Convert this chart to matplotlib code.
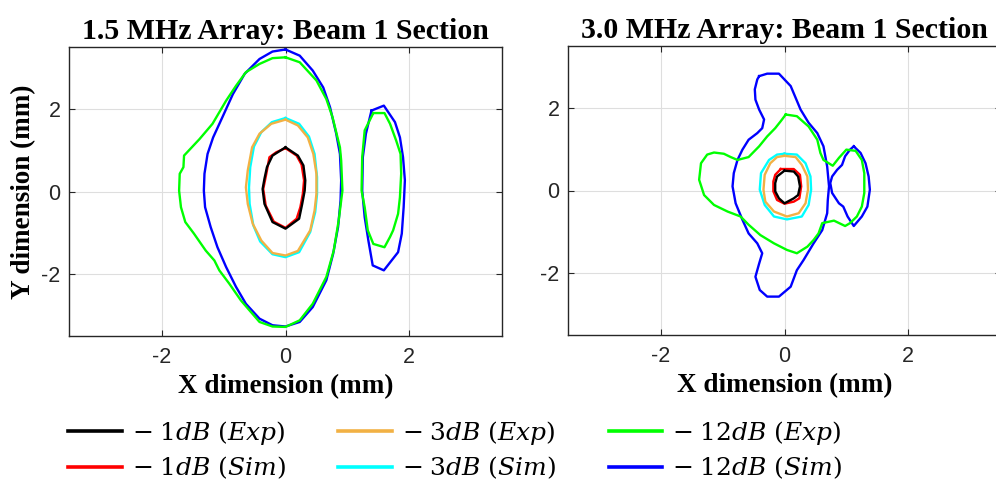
import matplotlib
matplotlib.use("Agg")
import matplotlib.pyplot as plt
import numpy as np

plt.rcParams["mathtext.fontset"] = "dejavuserif"

# ---------------- 1.5 MHz array contours (mm) ----------------
l_exp1_x = [0.0, 0.20, 0.29, 0.32, 0.31, 0.27, 0.22, 0.0, -0.21, -0.34, -0.37, -0.34, -0.30, -0.21]
l_exp1_y = [1.07, 0.87, 0.63, 0.27, 0.02, -0.30, -0.66, -0.90, -0.74, -0.30, 0.06, 0.31, 0.59, 0.87]
l_sim1_x = [0.0, 0.18, 0.26, 0.30, 0.28, 0.24, 0.18, 0.0, -0.19, -0.32, -0.36, -0.31, -0.26, -0.15]
l_sim1_y = [1.05, 0.87, 0.65, 0.27, -0.06, -0.38, -0.66, -0.88, -0.73, -0.34, 0.06, 0.43, 0.83, 0.95]

l_exp3_x = [0.0, 0.20, 0.36, 0.45, 0.50, 0.50, 0.47, 0.40, 0.20, 0.0, -0.21, -0.39, -0.53, -0.61,
            -0.64, -0.61, -0.54, -0.42, -0.23]
l_exp3_y = [1.74, 1.60, 1.31, 0.91, 0.43, -0.06, -0.46, -0.94, -1.44, -1.55, -1.49, -1.19, -0.78,
            -0.30, 0.10, 0.51, 1.07, 1.40, 1.64]
l_sim3_x = [0.0, 0.22, 0.38, 0.47, 0.51, 0.51, 0.48, 0.40, 0.22, 0.0, -0.21, -0.41, -0.52, -0.58,
            -0.59, -0.57, -0.51, -0.39, -0.22]
l_sim3_y = [1.78, 1.64, 1.33, 0.91, 0.35, -0.06, -0.50, -0.98, -1.47, -1.59, -1.52, -1.21, -0.82,
            -0.30, 0.10, 0.59, 1.09, 1.44, 1.68]

l_sim12_x = [0.0, -0.21, -0.42, -0.66, -0.85, -1.02, -1.17, -1.26, -1.31, -1.32, -1.30, -1.21,
             -1.10, -0.96, -0.80, -0.64, -0.42, -0.21, 0.0, 0.23, 0.44, 0.66, 0.77, 0.85, 0.89,
             0.90, 0.88, 0.82, 0.72, 0.61, 0.44, 0.23]
l_sim12_y = [3.44, 3.39, 3.21, 2.85, 2.36, 1.80, 1.31, 0.91, 0.43, 0.02, -0.38, -0.86, -1.35,
             -1.83, -2.31, -2.72, -3.08, -3.24, -3.27, -3.16, -2.80, -2.15, -1.51, -0.86, -0.22,
             0.27, 0.91, 1.40, 2.04, 2.52, 2.93, 3.29]
l_sim12_lobe_x = [1.39, 1.59, 1.77, 1.85, 1.90, 1.93, 1.91, 1.88, 1.82, 1.59, 1.41, 1.34, 1.28,
                  1.24, 1.25, 1.30]
l_sim12_lobe_y = [1.96, 2.08, 1.68, 1.31, 0.83, 0.27, -0.38, -1.02, -1.47, -1.91, -1.79, -1.19,
                  -0.62, 0.02, 0.83, 1.40]

l_exp12_x = [0.0, -0.21, -0.42, -0.64, -0.80, -0.96, -1.18, -1.39, -1.64, -1.65, -1.71, -1.72,
             -1.69, -1.62, -1.48, -1.29, -1.15, -1.07, -0.91, -0.72, -0.42, -0.21, 0.0, 0.23,
             0.44, 0.66, 0.78, 0.86, 0.92, 0.90, 0.88, 0.76, 0.66, 0.50, 0.23]
l_exp12_y = [3.25, 3.23, 3.09, 2.89, 2.56, 2.20, 1.64, 1.27, 0.87, 0.59, 0.43, 0.02, -0.38,
             -0.74, -1.02, -1.43, -1.67, -1.91, -2.23, -2.64, -3.16, -3.27, -3.28, -3.12, -2.72,
             -2.07, -1.43, -0.70, 0.02, 0.75, 1.07, 1.80, 2.24, 2.69, 3.13]
l_exp12_lobe_x = [1.42, 1.60, 1.69, 1.79, 1.86, 1.87, 1.85, 1.82, 1.74, 1.69, 1.60, 1.42, 1.33,
                  1.28, 1.23, 1.24, 1.28]
l_exp12_lobe_y = [1.90, 1.90, 1.64, 1.23, 0.91, 0.43, -0.14, -0.54, -0.94, -1.10, -1.35, -1.27,
                  -0.94, -0.38, 0.02, 0.83, 1.48]

# ---------------- 3.0 MHz array contours (mm) ----------------
r_exp1_x = [0.0, 0.15, 0.22, 0.25, 0.22, 0.15, 0.0, -0.09, -0.15, -0.15, -0.12]
r_exp1_y = [0.48, 0.46, 0.34, 0.10, -0.11, -0.19, -0.31, -0.19, -0.02, 0.18, 0.34]
r_sim1_x = [-0.06, 0.15, 0.25, 0.27, 0.24, 0.15, 0.0, -0.12, -0.18, -0.18, -0.15]
r_sim1_y = [0.52, 0.52, 0.38, 0.10, -0.19, -0.27, -0.32, -0.23, -0.02, 0.22, 0.38]

r_exp3_x = [0.0, 0.18, 0.28, 0.37, 0.38, 0.34, 0.23, 0.04, -0.17, -0.31, -0.34, -0.32, -0.23, -0.12]
r_exp3_y = [0.84, 0.81, 0.62, 0.34, 0.02, -0.31, -0.55, -0.63, -0.51, -0.27, 0.02, 0.38, 0.66, 0.81]
r_sim3_x = [0.0, 0.20, 0.34, 0.42, 0.43, 0.39, 0.28, 0.04, -0.17, -0.32, -0.40, -0.38, -0.25, -0.12]
r_sim3_y = [0.89, 0.87, 0.66, 0.34, 0.02, -0.35, -0.63, -0.70, -0.63, -0.35, 0.02, 0.42, 0.74, 0.87]

r_sim12_x = [-0.41, -0.28, -0.09, 0.10, 0.26, 0.39, 0.53, 0.63, 0.69, 0.72, 0.70, 0.69, 0.61,
             0.47, 0.31, 0.20, 0.10, -0.09, -0.28, -0.40, -0.47, -0.41, -0.36, -0.44, -0.58,
             -0.68, -0.79, -0.84, -0.82, -0.76, -0.68, -0.58, -0.44, -0.36, -0.33, -0.41, -0.47,
             -0.48, -0.44]
r_sim12_y = [2.77, 2.83, 2.83, 2.53, 1.96, 1.64, 1.39, 1.07, 0.58, 0.10, -0.23, -0.55, -0.96,
             -1.28, -1.68, -1.93, -2.33, -2.57, -2.57, -2.41, -2.09, -1.77, -1.52, -1.28, -1.04,
             -0.71, -0.31, 0.10, 0.42, 0.74, 0.99, 1.23, 1.39, 1.51, 1.72, 1.96, 2.20, 2.45, 2.69]
r_sim12_lobe_x = [1.12, 1.23, 1.31, 1.36, 1.38, 1.34, 1.25, 1.12, 1.02, 0.95, 0.88, 0.77, 0.74,
                  0.77, 0.85, 0.93, 0.98, 1.06]
r_sim12_lobe_y = [1.07, 0.91, 0.66, 0.34, 0.02, -0.39, -0.63, -0.86, -0.63, -0.39, -0.31, -0.06,
                  0.18, 0.34, 0.50, 0.62, 0.83, 0.99]

r_exp12_x = [0.02, 0.20, 0.39, 0.53, 0.58, 0.63, 0.78, 0.88, 1.00, 1.15, 1.25, 1.29, 1.29, 1.25,
             1.17, 1.06, 0.98, 0.80, 0.61, 0.55, 0.47, 0.37, 0.20, 0.04, -0.17, -0.39, -0.58,
             -0.71, -0.92, -1.14, -1.30, -1.38, -1.35, -1.25, -1.14, -0.98, -0.87, -0.76, -0.58,
             -0.41, -0.28, -0.15, -0.06]
r_exp12_y = [1.84, 1.80, 1.55, 1.23, 0.91, 0.74, 0.60, 0.79, 0.99, 0.96, 0.74, 0.42, -0.06, -0.39,
             -0.63, -0.79, -0.86, -0.73, -0.79, -1.04, -1.20, -1.36, -1.52, -1.44, -1.28, -1.08,
             -0.83, -0.63, -0.51, -0.35, -0.11, 0.26, 0.66, 0.87, 0.92, 0.89, 0.81, 0.74, 0.81,
             1.07, 1.31, 1.51, 1.68]

tick_vals = [-2, 0, 2]
tick_labels = ["-2", "0", "2"]

C_EXP1, C_SIM1 = "#000000", "#ff0000"
C_EXP3, C_SIM3 = "#f2b144", "#00ffff"
C_EXP12, C_SIM12 = "#00ff00", "#0000ff"
LW = 1.7
SERIF = "Liberation Serif"


def closed(x, y):
    x = np.asarray(x, float)
    y = np.asarray(y, float)
    return np.append(x, x[0]), np.append(y, y[0])


def style_axes(ax, title):
    ax.set_xlim(-3.5, 3.5)
    ax.set_ylim(-3.5, 3.5)
    ax.set_xticks(tick_vals)
    ax.set_xticklabels(tick_labels)
    ax.set_yticks(tick_vals)
    ax.set_yticklabels(tick_labels)
    ax.grid(True, color="#dedede", linewidth=0.8)
    ax.set_axisbelow(True)
    ax.tick_params(direction="in", length=4, width=0.8, top=True, right=True,
                   labelsize=15.5, colors="#262626", labelcolor="#262626")
    ax.tick_params(axis="x", pad=8)
    ax.tick_params(axis="y", pad=6)
    for lbl in ax.get_xticklabels() + ax.get_yticklabels():
        lbl.set_fontfamily("Liberation Sans")
    for s in ax.spines.values():
        s.set_color("#262626")
        s.set_linewidth(1.0)
    ax.set_title(title, fontfamily=SERIF, fontweight="bold", fontsize=21.5, pad=6)
    ax.set_xlabel("X dimension (mm)", fontfamily=SERIF, fontweight="bold",
                  fontsize=19.5, labelpad=4)


fig = plt.figure(figsize=(9.96, 4.84), dpi=100)
axL = fig.add_axes([69 / 996, 1 - 336 / 484, 433 / 996, 289 / 484])
axR = fig.add_axes([568 / 996, 1 - 335 / 484, 433 / 996, 289 / 484])

# simulated contours first, experimental drawn on top
for xs, ys, c in [(l_sim12_x, l_sim12_y, C_SIM12), (l_sim12_lobe_x, l_sim12_lobe_y, C_SIM12),
                  (l_sim3_x, l_sim3_y, C_SIM3), (l_sim1_x, l_sim1_y, C_SIM1),
                  (l_exp12_x, l_exp12_y, C_EXP12), (l_exp12_lobe_x, l_exp12_lobe_y, C_EXP12),
                  (l_exp3_x, l_exp3_y, C_EXP3), (l_exp1_x, l_exp1_y, C_EXP1)]:
    axL.plot(*closed(xs, ys), color=c, lw=LW)

for xs, ys, c in [(r_sim12_x, r_sim12_y, C_SIM12), (r_sim12_lobe_x, r_sim12_lobe_y, C_SIM12),
                  (r_sim3_x, r_sim3_y, C_SIM3), (r_sim1_x, r_sim1_y, C_SIM1),
                  (r_exp12_x, r_exp12_y, C_EXP12),
                  (r_exp3_x, r_exp3_y, C_EXP3), (r_exp1_x, r_exp1_y, C_EXP1)]:
    axR.plot(*closed(xs, ys), color=c, lw=LW)

style_axes(axL, "1.5 MHz Array: Beam 1 Section")
style_axes(axR, "3.0 MHz Array: Beam 1 Section")
axL.set_ylabel("Y dimension (mm)", fontfamily=SERIF, fontweight="bold",
               fontsize=19.5, labelpad=4)

# legend
legend_labels = [r"$-\;1dB\ (Exp)$", r"$-\;1dB\ (Sim)$",
                 r"$-\;3dB\ (Exp)$", r"$-\;3dB\ (Sim)$",
                 r"$-\;12dB\ (Exp)$", r"$-\;12dB\ (Sim)$"]
legend_colors = [C_EXP1, C_SIM1, C_EXP3, C_SIM3, C_EXP12, C_SIM12]
handles = [plt.Line2D([], [], color=c, lw=2.6) for c in legend_colors]
fig.legend(handles, legend_labels, ncol=3, frameon=False, loc="center left",
           bbox_to_anchor=(58 / 996, 1 - 450 / 484), fontsize=18,
           handlelength=2.15, handletextpad=0.4, columnspacing=2.1, labelspacing=0.32,
           borderaxespad=0.0)

fig.savefig("out.png", dpi=100)
